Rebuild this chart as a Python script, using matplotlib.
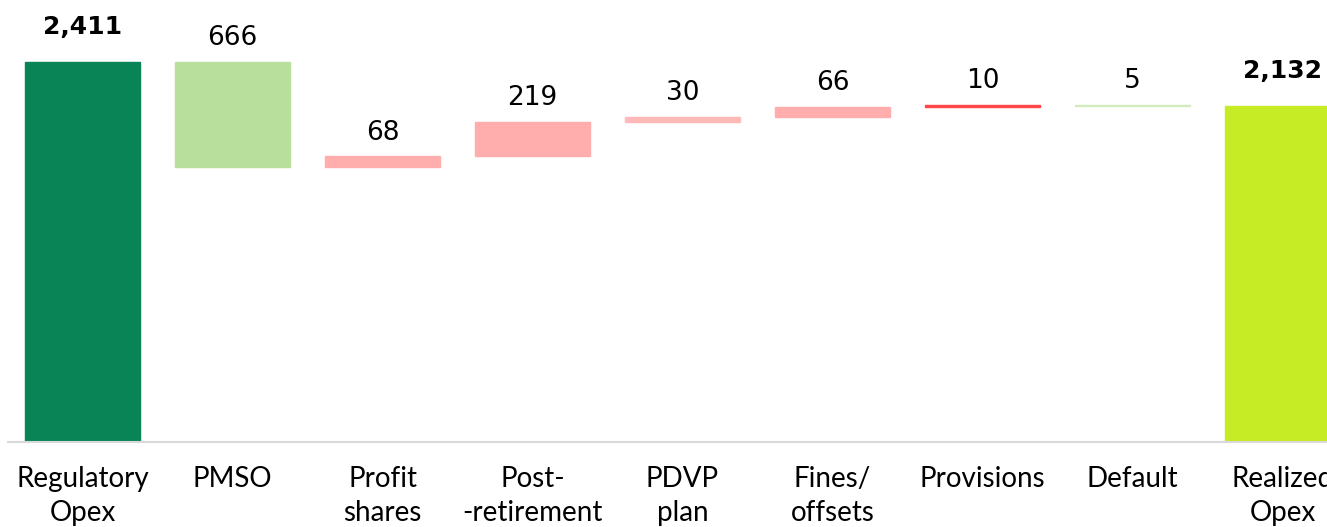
import matplotlib
matplotlib.use("Agg")
import matplotlib.pyplot as plt
import numpy as np

# Data
categories = ["Regulatory\nOpex", "PMSO", "Profit\nshares", "Post-\n-retirement",
              "PDVP\nplan", "Fines/\noffsets", "Provisions", "Default", "Realized\nOpex"]
values = [2411, -666, 68, 219, 30, 66, 10, -5, 2132]
labels = ["2,411", "666", "68", "219", "30", "66", "10", "5", "2,132"]
kinds = ["total", "step", "step", "step", "step", "step", "step", "step", "total"]
colors = ["#088457", "#B8DF9B", "#FFADAD", "#FFADAD", "#FFB9B9",
          "#FFADAD", "#FF4545", "#D3ECBD", "#C5EC25"]

# waterfall bottoms / heights
bottoms, heights = [], []
running = 0
for v, k in zip(values, kinds):
    if k == "total":
        bottoms.append(0)
        heights.append(v)
        running = v
    else:
        if v >= 0:
            bottoms.append(running)
            heights.append(v)
        else:
            bottoms.append(running + v)
            heights.append(-v)
        running += v

fig = plt.figure(figsize=(13.27, 5.27), dpi=100)
ax = fig.add_axes([8 / 1327, 85 / 527, 1 - 8 / 1327, 442 / 527])
x = np.arange(len(categories))
ax.bar(x, heights, bottom=bottoms, width=0.767, color=colors,
       edgecolor=colors, linewidth=1.0)

for xi, b, h, lab, k in zip(x, bottoms, heights, labels, kinds):
    top = b + h
    if k == "total":
        ax.annotate(lab, (xi, top), xytext=(0, 20), textcoords="offset points",
                    ha="center", va="baseline", fontsize=18, fontweight="bold",
                    family="DejaVu Sans")
    else:
        ax.annotate(lab, (xi, top), xytext=(0, 12), textcoords="offset points",
                    ha="center", va="baseline", fontsize=19, family="DejaVu Sans")

ax.set_xlim(-0.497, 8.297)
ax.set_ylim(0, 442 / (380 / 2411))
ax.set_xticks(x)
ax.set_xticklabels(categories, fontsize=20, family="Lato", linespacing=1.4)
ax.tick_params(axis="x", length=0, pad=17)
ax.set_yticks([])
for s in ["top", "left", "right"]:
    ax.spines[s].set_visible(False)
ax.spines["bottom"].set_color("#D9D9D9")
ax.spines["bottom"].set_linewidth(1.5)

fig.savefig("out.png", dpi=100)
